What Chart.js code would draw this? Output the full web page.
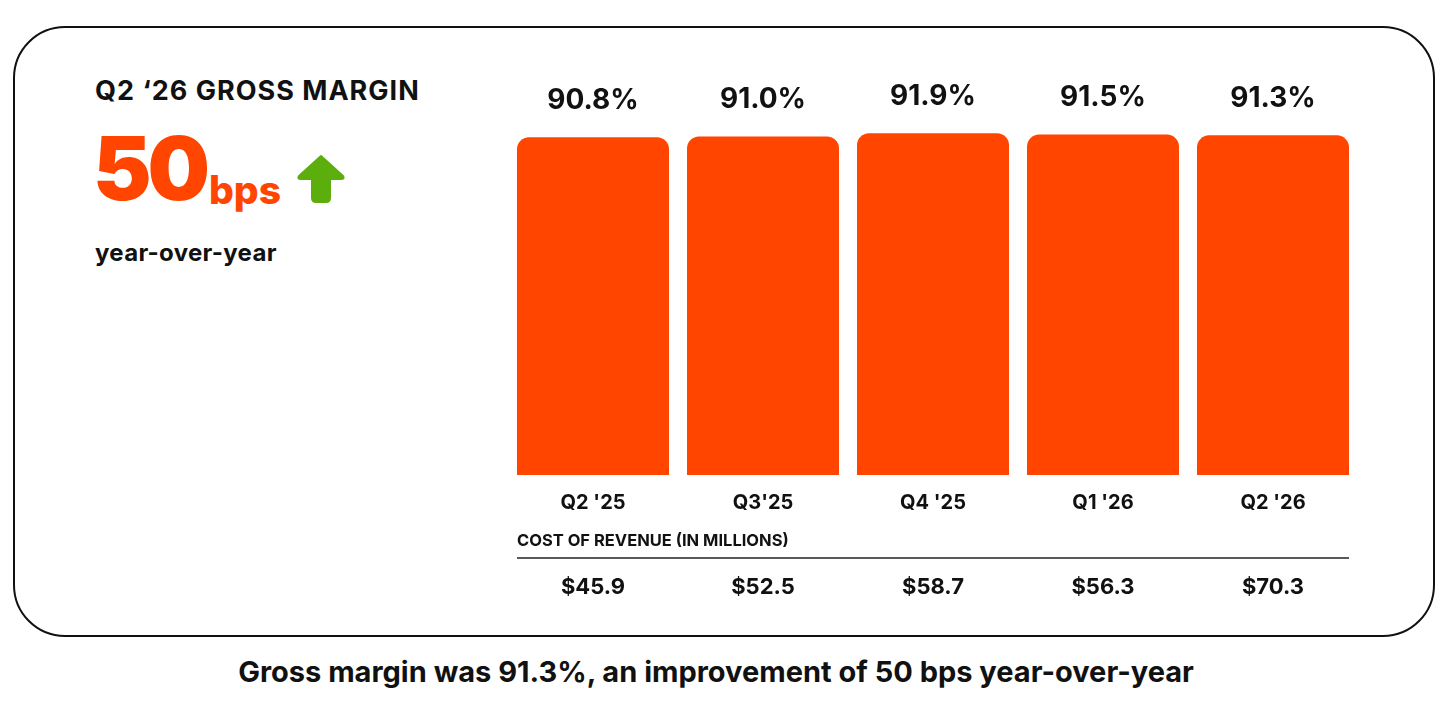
<!DOCTYPE html>
<html>
<head>
<meta charset="utf-8">
<script src="https://cdn.jsdelivr.net/npm/chart.js@4.4.1/dist/chart.umd.min.js"></script>
<style>
  html, body { margin: 0; padding: 0; background: #fff; }
  body { width: 1456px; height: 718px; position: relative; overflow: hidden; font-family: Inter, "Noto Sans", sans-serif; color: #111; }
  .card { position: absolute; left: 13px; top: 26px; width: 1418px; height: 607px; border: 2.5px solid #111; border-radius: 52px; }
  .title { position: absolute; left: 95px; top: 74px; font-size: 27px; font-weight: 700; letter-spacing: 1px; }
  .big { position: absolute; left: 93px; top: 124px; font-size: 88px; font-weight: 900; color: #ff4500; letter-spacing: -4px; line-height: 1; }
  .bps { position: absolute; left: 209px; top: 170px; font-size: 39px; font-weight: 800; color: #ff4500; line-height: 1; letter-spacing: 0px; }
  .arrow { position: absolute; left: 296px; top: 154px; }
  .yoy { position: absolute; left: 95px; top: 238px; font-size: 24px; font-weight: 700; letter-spacing: 0.3px; }
  .caption { position: absolute; left: -12px; width: 1456px; top: 654px; text-align: center; font-size: 29px; font-weight: 700; letter-spacing: 0px; }
  #wrap { position: absolute; left: 500px; top: 60px; width: 870px; height: 560px; }
</style>
</head>
<body>
<div class="card"></div>
<div class="title">Q2 ‘26 GROSS MARGIN</div>
<div class="big">50</div>
<div class="bps">bps</div>
<svg class="arrow" width="50" height="50" viewBox="0 0 50 50">
  <path d="M25 2 L47 22 Q49 25 45 25 L34 25 L34 44 Q34 48 30 48 L20 48 Q16 48 16 44 L16 25 L5 25 Q1 25 3 22 Z" fill="#5cae0c" stroke="#5cae0c" stroke-width="2" stroke-linejoin="round"/>
</svg>
<div class="yoy">year-over-year</div>
<div class="caption">Gross margin was 91.3%, an improvement of 50 bps year-over-year</div>
<div id="wrap"><canvas id="marginChart"></canvas></div>

<script>
// Données
const quarters = ["Q2 '25", "Q3'25", "Q4 '25", "Q1 '26", "Q2 '26"];
const grossMargin = [90.8, 91.0, 91.9, 91.5, 91.3];
const costOfRevenue = ["$45.9", "$52.5", "$58.7", "$56.3", "$70.3"];
const costTitle = 'COST OF REVENUE (IN MILLIONS)';

const ORANGE = '#ff4500';
const FONT = 'Inter, "Noto Sans", sans-serif';

// Étiquettes dessinées autour des barres
const labelsPlugin = {
    id: 'labels',
    afterDatasetsDraw(chart) {
        const ctx = chart.ctx;
        const meta = chart.getDatasetMeta(0);
        ctx.save();
        ctx.fillStyle = '#111';
        ctx.textAlign = 'center';
        ctx.textBaseline = 'middle';
        meta.data.forEach((bar, i) => {
            ctx.font = '700 28px ' + FONT;
            ctx.fillText(grossMargin[i].toFixed(1) + '%', bar.x, bar.y - 37);
            ctx.font = '700 20px ' + FONT;
            ctx.fillText(quarters[i], bar.x, 443);
            ctx.font = '700 22px ' + FONT;
            ctx.fillText(costOfRevenue[i], bar.x, 527);
        });
        const left = meta.data[0].x - meta.data[0].width / 2;
        const last = meta.data[meta.data.length - 1];
        const right = last.x + last.width / 2;
        ctx.textAlign = 'left';
        ctx.font = '700 16.5px ' + FONT;
        ctx.fillText(costTitle, left, 481);
        ctx.strokeStyle = '#222';
        ctx.lineWidth = 1.5;
        ctx.beginPath();
        ctx.moveTo(left, 498);
        ctx.lineTo(right, 498);
        ctx.stroke();
        ctx.restore();
    }
};

document.addEventListener('DOMContentLoaded', function () {
    const ctx = document.getElementById('marginChart');
    new Chart(ctx, {
        type: 'bar',
        data: {
            labels: quarters,
            datasets: [{
                data: grossMargin,
                backgroundColor: ORANGE,
                borderRadius: 12,
                borderSkipped: 'start',
                barPercentage: 152 / 170,
                categoryPercentage: 1
            }]
        },
        options: {
            responsive: true,
            maintainAspectRatio: false,
            animation: false,
            layout: { padding: { left: 8, right: 12, top: 43, bottom: 145 } },
            plugins: {
                legend: { display: false },
                tooltip: { enabled: false }
            },
            scales: {
                x: { display: false },
                y: { display: false, min: 0, max: 100 }
            }
        },
        plugins: [labelsPlugin]
    });
});
</script>
</body>
</html>
